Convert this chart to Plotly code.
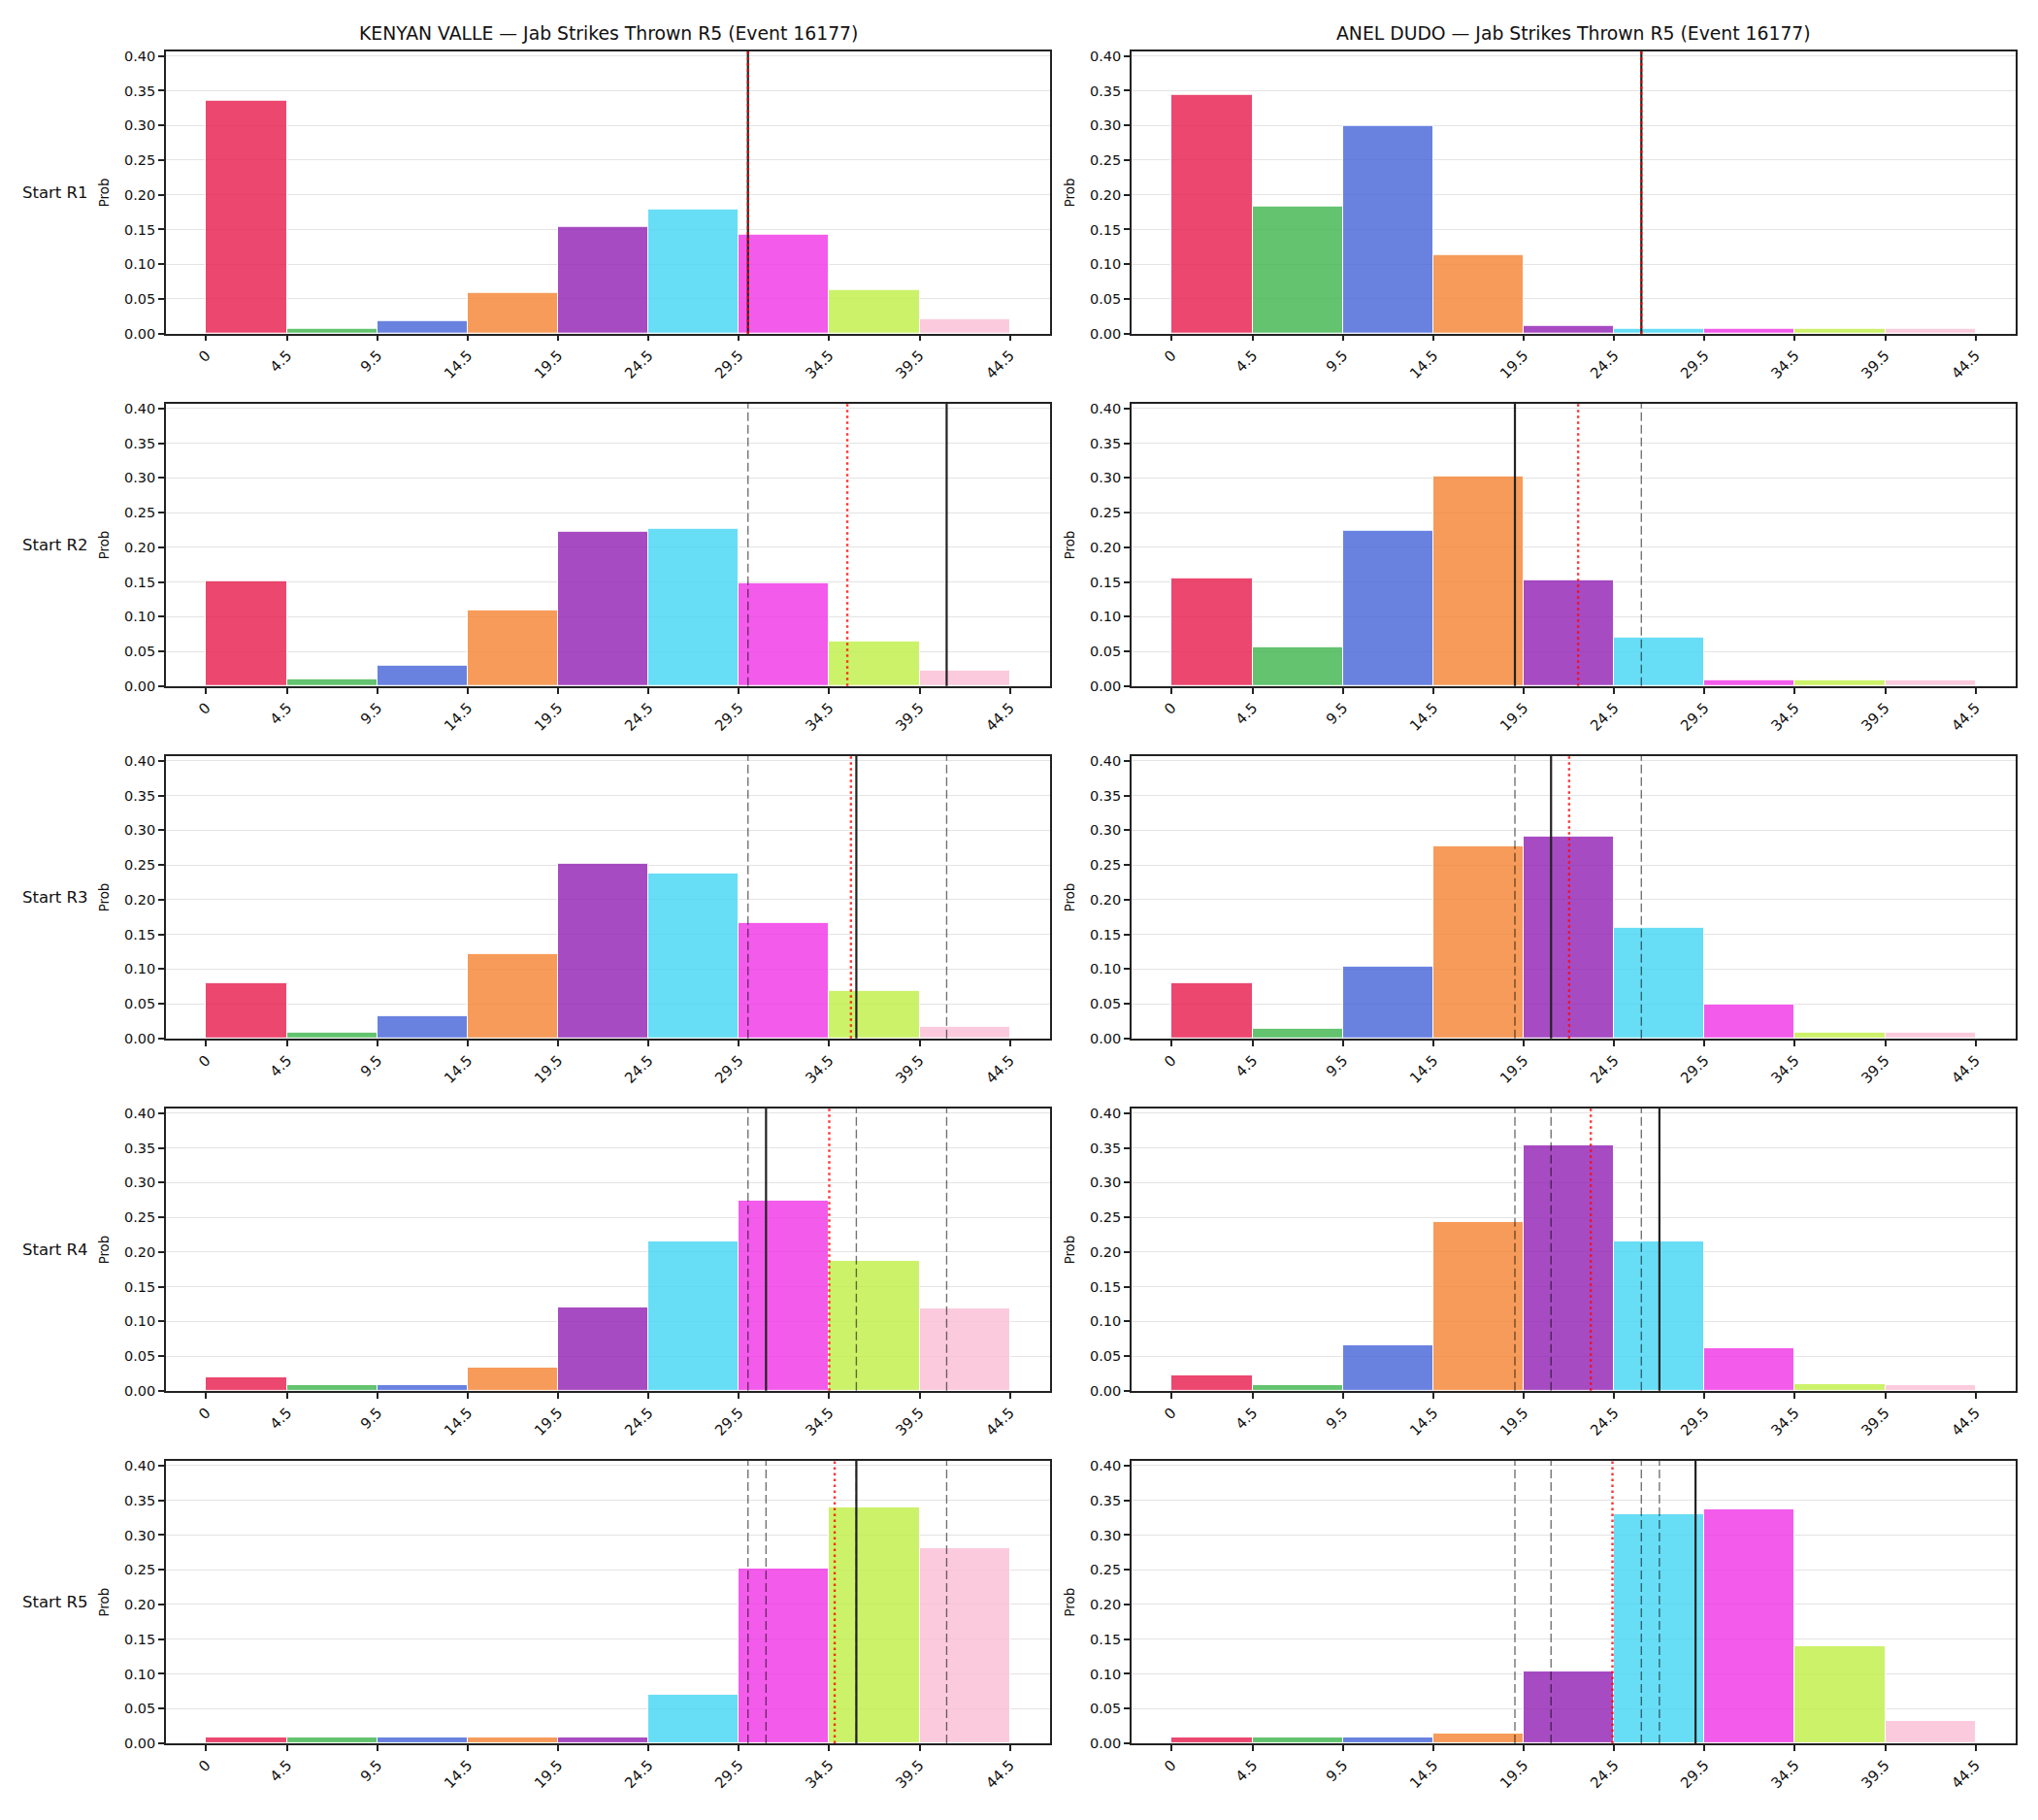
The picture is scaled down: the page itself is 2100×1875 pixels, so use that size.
import plotly.graph_objects as go
from plotly.subplots import make_subplots

# ---------------- data ----------------
edges = [0, 4.5, 9.5, 14.5, 19.5, 24.5, 29.5, 34.5, 39.5, 44.5]
tick_labels = ["0", "4.5", "9.5", "14.5", "19.5", "24.5", "29.5", "34.5", "39.5", "44.5"]
bin_colors = ["#e6194b", "#3cb44b", "#4363d8", "#f58231", "#911eb4",
              "#42d4f4", "#f032e6", "#bfef45", "#fabed4"]
row_labels = ["Start R1", "Start R2", "Start R3", "Start R4", "Start R5"]
titles = ["KENYAN VALLE \u2014 Jab Strikes Thrown R5 (Event 16177)",
          "ANEL DUDO \u2014 Jab Strikes Thrown R5 (Event 16177)"]

valle_probs = [
    [0.336, 0.0075, 0.0186, 0.0590, 0.1540, 0.1790, 0.1430, 0.0635, 0.0213],
    [0.1516, 0.0097, 0.0292, 0.1094, 0.2225, 0.2262, 0.1488, 0.0649, 0.0218],
    [0.0803, 0.0088, 0.0325, 0.1220, 0.2524, 0.2371, 0.1666, 0.0687, 0.0172],
    [0.0190, 0.0079, 0.0079, 0.0329, 0.1205, 0.2151, 0.2735, 0.1873, 0.1191],
    [0.0083, 0.0083, 0.0083, 0.0083, 0.0083, 0.0705, 0.2513, 0.3403, 0.2805],
]
dudo_probs = [
    [0.3443, 0.1833, 0.2988, 0.1137, 0.0107, 0.0074, 0.0074, 0.0074, 0.0074],
    [0.1553, 0.0556, 0.2239, 0.3017, 0.1530, 0.0695, 0.0083, 0.0083, 0.0083],
    [0.0803, 0.0135, 0.1040, 0.2766, 0.2905, 0.1596, 0.0483, 0.0079, 0.0079],
    [0.0223, 0.0083, 0.0654, 0.2434, 0.3533, 0.2156, 0.0612, 0.0097, 0.0079],
    [0.0083, 0.0083, 0.0083, 0.0139, 0.1038, 0.3305, 0.3375, 0.1400, 0.0315],
]
valle_actual = [30, 41, 36, 31, 36]
dudo_actual = [26, 19, 21, 27, 29]
valle_mean = [30.0, 35.5, 35.7, 34.5, 34.8]
dudo_mean = [26.0, 22.5, 22.0, 23.2, 24.4]

# ---------------- layout helpers ----------------
W, H = 2100, 1875
col_x = [(171, 1082), (1166, 2077)]
row_top0, row_step, row_h = 50, 365.2, 292.7
XMIN, XMAX = -2.225, 46.725
YMAX = 0.407


def rgba(hex_color, a):
    h = hex_color.lstrip("#")
    r, g, b = int(h[0:2], 16), int(h[2:4], 16), int(h[4:6], 16)
    return f"rgba({r},{g},{b},{a})"


fill_colors = [rgba(c, 0.8) for c in bin_colors]
centers = [(edges[i] + edges[i + 1]) / 2 for i in range(len(edges) - 1)]
widths = [edges[i + 1] - edges[i] for i in range(len(edges) - 1)]

fig = make_subplots(rows=5, cols=2)
FONT = "DejaVu Sans"

all_probs = [valle_probs, dudo_probs]
all_actual = [valle_actual, dudo_actual]
all_mean = [valle_mean, dudo_mean]

shapes = []
annotations = []

for c in range(2):
    for r in range(5):
        idx = r * 2 + c + 1
        fig.add_trace(go.Bar(
            x=centers, y=all_probs[c][r], width=widths,
            marker=dict(color=fill_colors, line=dict(color="white", width=1)),
            showlegend=False, hoverinfo="skip"),
            row=r + 1, col=c + 1)
        x0, x1 = col_x[c]
        top = row_top0 + r * row_step
        bot = top + row_h
        fig.update_xaxes(domain=[x0 / W, x1 / W], range=[XMIN, XMAX],
                         tickmode="array", tickvals=edges, ticktext=tick_labels,
                         tickangle=-45, ticks="outside", ticklen=6, tickwidth=1.5,
                         tickcolor="#222", showgrid=False, zeroline=False,
                         showline=True, linecolor="#222", linewidth=1.6, mirror=True,
                         tickfont=dict(family=FONT, size=15, color="#111"),
                         row=r + 1, col=c + 1)
        fig.update_yaxes(domain=[1 - bot / H, 1 - top / H], range=[0, YMAX],
                         tickmode="array",
                         tickvals=[0, 0.05, 0.1, 0.15, 0.2, 0.25, 0.3, 0.35, 0.4],
                         ticktext=["0.00", "0.05", "0.10", "0.15", "0.20", "0.25",
                                   "0.30", "0.35", "0.40"],
                         ticks="outside", ticklen=6, tickwidth=1.5, tickcolor="#222",
                         showgrid=True, gridcolor="#e4e4e4", gridwidth=1,
                         zeroline=False, showline=True, linecolor="#222",
                         linewidth=1.6, mirror=True,
                         tickfont=dict(family=FONT, size=14.5, color="#111"),
                         row=r + 1, col=c + 1)
        xref = f"x{idx}" if idx > 1 else "x"
        yref = (f"y{idx}" if idx > 1 else "y") + " domain"
        # previous rounds (dashed)
        for v in all_actual[c][:r]:
            shapes.append(dict(type="line", xref=xref, yref=yref, x0=v, x1=v, y0=0, y1=1,
                               line=dict(color="rgba(0,0,0,0.55)", width=1.4, dash="9px,4px"),
                               layer="above"))
        # current actual (solid)
        v = all_actual[c][r]
        shapes.append(dict(type="line", xref=xref, yref=yref, x0=v, x1=v, y0=0, y1=1,
                           line=dict(color="#222", width=2.2), layer="above"))
        # mean (red dotted)
        m = all_mean[c][r]
        shapes.append(dict(type="line", xref=xref, yref=yref, x0=m, x1=m, y0=0, y1=1,
                           line=dict(color="rgba(255,0,0,0.8)", width=2.4, dash="2.5px,3.5px"),
                           layer="above"))
        # Prob label
        annotations.append(dict(text="Prob", x=(x0 - 64) / W, y=1 - (top + row_h / 2) / H,
                                xref="paper", yref="paper", showarrow=False,
                                textangle=-90, xanchor="center", yanchor="middle",
                                font=dict(family=FONT, size=13.3, color="#111")))
        if c == 0:
            annotations.append(dict(text=row_labels[r], x=57 / W, y=1 - (top + row_h / 2) / H,
                                    xref="paper", yref="paper", showarrow=False,
                                    xanchor="center", yanchor="middle",
                                    font=dict(family=FONT, size=16.5, color="#111")))
    x0, x1 = col_x[c]
    annotations.append(dict(text=titles[c], x=(x0 + x1) / 2 / W, y=1 - 31.5 / H,
                            xref="paper", yref="paper", showarrow=False,
                            xanchor="center", yanchor="middle",
                            font=dict(family=FONT, size=18.8, color="#111")))

fig.update_layout(width=W, height=H, margin=dict(l=0, r=0, t=0, b=0),
                  paper_bgcolor="white", plot_bgcolor="white",
                  bargap=0, barmode="overlay",
                  shapes=shapes, annotations=annotations)

fig.write_html("out.html")
